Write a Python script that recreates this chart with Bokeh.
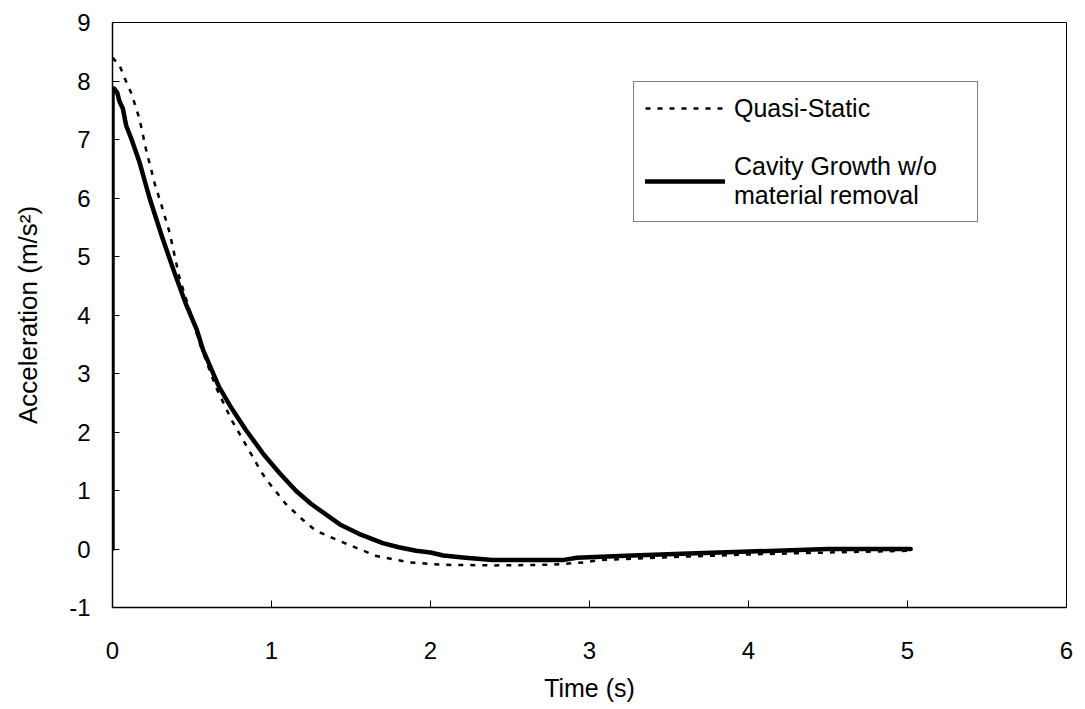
from bokeh.plotting import figure
from bokeh.models import Legend, LegendItem, FixedTicker, Range1d
from bokeh.embed import file_html
from bokeh.resources import INLINE

# Quasi-Static (dotted)
qs_t = [0.0, 0.044, 0.075, 0.12, 0.17, 0.21, 0.27, 0.30, 0.36, 0.42, 0.50, 0.55,
        0.65, 0.75, 0.86, 0.94, 0.99, 1.09, 1.18, 1.28, 1.47, 1.66, 1.87, 2.08,
        2.40, 2.75, 2.96, 3.06, 3.50, 4.05, 4.50, 5.00]
qs_a = [8.40, 8.27, 8.06, 7.78, 7.35, 6.84, 6.20, 5.95, 5.40, 4.65, 3.95, 3.50,
        2.77, 2.20, 1.68, 1.30, 1.11, 0.77, 0.54, 0.31, 0.09, -0.12, -0.23, -0.27,
        -0.28, -0.27, -0.23, -0.19, -0.14, -0.09, -0.06, -0.03]

# Cavity Growth w/o material removal (solid)
cg_t = [0.0, 0.0, 0.01, 0.03, 0.044, 0.065, 0.086, 0.12, 0.17, 0.233, 0.31, 0.39,
        0.46, 0.53, 0.57, 0.67, 0.75, 0.84, 0.95, 1.05, 1.155, 1.25, 1.43, 1.55,
        1.70, 1.80, 1.91, 2.00, 2.08, 2.22, 2.39, 2.83, 2.92, 3.27, 3.58, 4.05,
        4.50, 5.02]
cg_a = [0.0, 7.80, 7.87, 7.80, 7.65, 7.53, 7.24, 7.00, 6.61, 6.00, 5.35, 4.72,
        4.20, 3.75, 3.40, 2.77, 2.40, 2.03, 1.62, 1.30, 0.99, 0.77, 0.42, 0.26,
        0.10, 0.03, -0.03, -0.06, -0.11, -0.15, -0.19, -0.19, -0.15, -0.11, -0.08,
        -0.04, 0.0, 0.0]

x_ticks = [0, 1, 2, 3, 4, 5, 6]
y_ticks = [-1, 0, 1, 2, 3, 4, 5, 6, 7, 8, 9]

FONT = "Liberation Sans"

p = figure(width=1085, height=709, output_backend="svg", toolbar_location=None,
           x_range=Range1d(0, 6), y_range=Range1d(-1, 9),
           min_border_left=112, min_border_right=19, min_border_top=22,
           min_border_bottom=102)
p.background_fill_color = "white"
p.border_fill_color = "white"
p.outline_line_color = "black"
p.outline_line_width = 1
p.xgrid.visible = False
p.ygrid.visible = False

r1 = p.line(qs_t, qs_a, line_color="black", line_width=2.5, line_dash="5 7")
r2 = p.line(cg_t, cg_a, line_color="black", line_width=4.5, line_join="round", line_cap="round")

for ax, ticks in ((p.xaxis[0], x_ticks), (p.yaxis[0], y_ticks)):
    ax.ticker = FixedTicker(ticks=ticks)
    ax.minor_tick_line_color = None
    ax.major_tick_in = 7
    ax.major_tick_out = 0
    ax.major_tick_line_color = "black"
    ax.axis_line_color = "black"
    ax.axis_line_width = 1.5
    ax.major_label_text_font = FONT
    ax.major_label_text_font_size = "24px"
    ax.major_label_text_color = "black"
    ax.axis_label_text_font = FONT
    ax.axis_label_text_font_size = "25px"
    ax.axis_label_text_font_style = "normal"
    ax.axis_label_text_color = "black"

p.xaxis.axis_label = "Time (s)"
p.xaxis.major_label_standoff = 34
p.xaxis.axis_label_standoff = 12
p.yaxis.axis_label = "Acceleration (m/s²)"
p.yaxis.axis_label_text_font_size = "26px"
p.yaxis.major_label_standoff = 22
p.yaxis.axis_label_standoff = 23
p.yaxis.major_label_overrides = {-1: "-1"}

legend = Legend(items=[LegendItem(label="Quasi-Static", renderers=[r1]),
                       LegendItem(label="Cavity Growth w/o\nmaterial removal", renderers=[r2])],
                location=(521, 385), margin=0, padding=11, spacing=29,
                glyph_width=80, glyph_height=30, label_height=30, label_width=232,
                label_standoff=9,
                label_text_font=FONT, label_text_font_size="25px",
                label_text_color="black",
                border_line_color="black", border_line_width=1.5,
                background_fill_color="white", background_fill_alpha=1)
p.add_layout(legend)

open("out.html", "w").write(file_html(p, INLINE))
